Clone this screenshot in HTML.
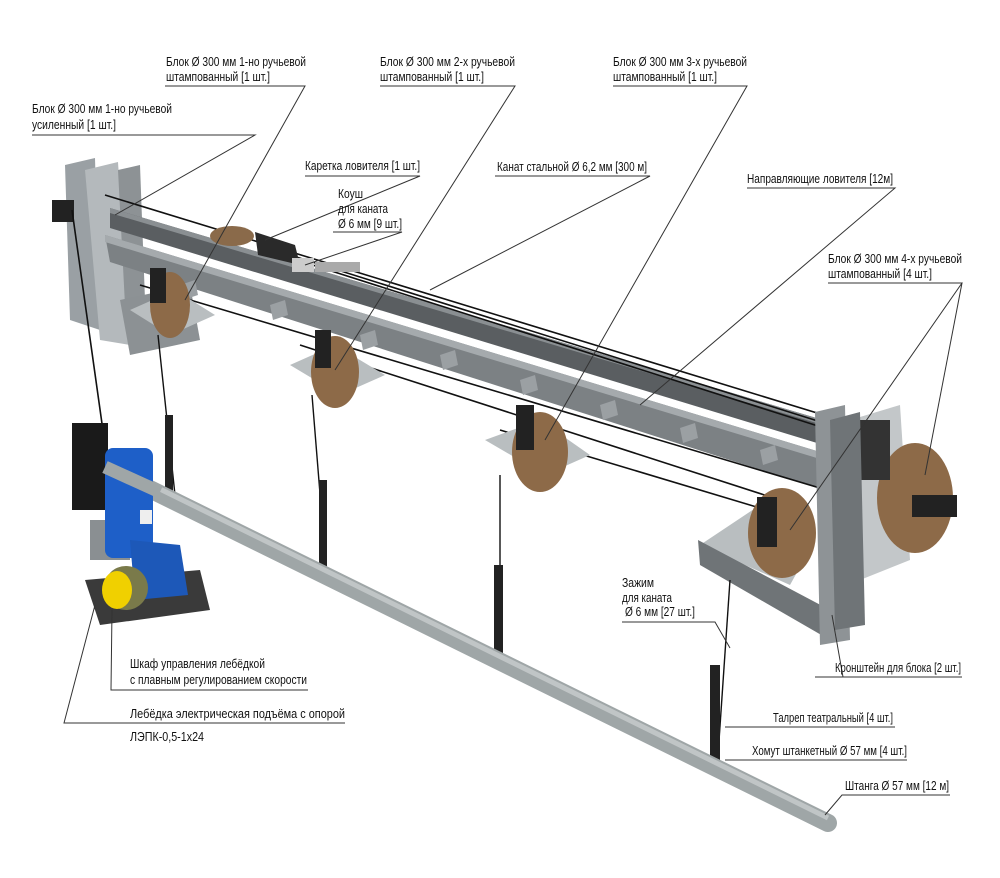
<!DOCTYPE html>
<html><head><meta charset="utf-8"><style>
html,body{margin:0;padding:0;background:#fff;}
svg{display:block;}
text{font-family:"Liberation Sans Narrow","Liberation Sans",sans-serif;font-size:12.5px;fill:#111;}
</style></head><body>
<svg width="1000" height="878" viewBox="0 0 1000 878" xmlns="http://www.w3.org/2000/svg">
<rect width="1000" height="878" fill="#fff"/>

<!-- Left bracket -->
<polygon points="65,165 95,158 100,330 70,320" fill="#9aa0a4"/>
<polygon points="85,170 118,162 130,345 100,340" fill="#b4b9bc"/>
<polygon points="118,170 140,165 145,300 125,305" fill="#8d9295"/>
<rect x="52" y="200" width="22" height="22" fill="#222"/>
<polygon points="120,300 190,285 200,340 130,355" fill="#8c9194"/>

<!-- Beams -->
<polygon points="105,235 830,455 830,492 110,262" fill="#7c8184"/>
<polygon points="105,235 830,455 830,462 105,242" fill="#a5aaad"/>
<polygon points="110,208 840,425 840,450 110,228" fill="#5a5e61"/>
<polygon points="110,208 840,425 840,430 110,213" fill="#8a8f92"/>
<g fill="#9ba0a3">
<polygon points="180,285 195,280 198,295 183,300"/>
<polygon points="270,305 285,300 288,315 273,320"/>
<polygon points="360,335 375,330 378,345 363,350"/>
<polygon points="440,355 455,350 458,365 443,370"/>
<polygon points="520,380 535,375 538,390 523,395"/>
<polygon points="600,405 615,400 618,415 603,420"/>
<polygon points="680,428 695,423 698,438 683,443"/>
<polygon points="760,450 775,445 778,460 763,465"/>
</g>
<g stroke="#111" stroke-width="1.6" fill="none">
<line x1="105" y1="195" x2="840" y2="420"/>
<line x1="290" y1="255" x2="840" y2="428"/>
<line x1="300" y1="261" x2="840" y2="433"/>
<line x1="140" y1="285" x2="860" y2="500"/>
<line x1="300" y1="345" x2="780" y2="500"/>
<line x1="500" y1="430" x2="800" y2="520"/>
<line x1="72" y1="210" x2="105" y2="445"/>
</g>
<ellipse cx="232" cy="236" rx="22" ry="10" fill="#8a6a4a"/>
<polygon points="255,232 295,245 300,265 258,255" fill="#2a2a2a"/>
<rect x="292" y="258" width="22" height="14" fill="#ccc"/>
<rect x="315" y="262" width="45" height="10" fill="#aaa"/>

<!-- Pulleys -->
<polygon points="130,310 175,290 215,315 170,335" fill="#b9bec0"/>
<ellipse cx="170" cy="305" rx="20" ry="33" fill="#8d6a48"/>
<rect x="150" y="268" width="16" height="35" fill="#222"/>

<polygon points="290,365 335,345 385,375 340,395" fill="#b9bec0"/>
<ellipse cx="335" cy="372" rx="24" ry="36" fill="#8d6a48"/>
<rect x="315" y="330" width="16" height="38" fill="#222"/>

<polygon points="485,440 540,420 590,455 545,475" fill="#b9bec0"/>
<ellipse cx="540" cy="452" rx="28" ry="40" fill="#8d6a48"/>
<rect x="516" y="405" width="18" height="45" fill="#222"/>

<polygon points="700,545 760,505 815,540 790,585" fill="#b9bec0"/>
<polygon points="698,540 830,610 830,640 700,565" fill="#6f7477"/>
<ellipse cx="782" cy="533" rx="34" ry="45" fill="#8d6a48"/>
<rect x="757" y="497" width="20" height="50" fill="#222"/>

<!-- right bracket -->
<polygon points="850,420 900,405 910,560 860,580" fill="#c3c7c9"/>
<ellipse cx="915" cy="498" rx="38" ry="55" fill="#8d6a48"/>
<rect x="912" y="495" width="45" height="22" fill="#222"/>
<rect x="860" y="420" width="30" height="60" fill="#333"/>
<polygon points="815,412 845,405 850,640 820,645" fill="#8e9396"/>
<polygon points="830,420 860,412 865,625 835,630" fill="#6f7477"/>

<!-- hanging cables -->
<g stroke="#111" stroke-width="1.4">
<line x1="158" y1="335" x2="175" y2="495"/>
<line x1="312" y1="395" x2="327" y2="580"/>
<line x1="500" y1="475" x2="500" y2="668"/>
<line x1="730" y1="580" x2="717" y2="770"/>
</g>
<g fill="#222">
<rect x="165" y="415" width="8" height="80"/>
<rect x="319" y="480" width="8" height="95"/>
<rect x="494" y="565" width="9" height="100"/>
<rect x="710" y="665" width="10" height="100"/>
</g>

<!-- Pipe -->
<line x1="105" y1="467" x2="828" y2="823" stroke="#9fa6a7" stroke-width="18" stroke-linecap="round"/>
<line x1="105" y1="462" x2="828" y2="818" stroke="#c0c5c6" stroke-width="5"/>

<!-- Motor -->
<rect x="72" y="423" width="36" height="87" fill="#1a1a1a"/>
<rect x="90" y="520" width="40" height="40" fill="#8a8f92"/>
<polygon points="85,580 200,570 210,610 100,625" fill="#3a3a3a"/>
<rect x="105" y="448" width="48" height="110" rx="8" fill="#1e5fc8"/>
<polygon points="130,540 180,545 188,595 135,600" fill="#1d58b8"/>
<rect x="140" y="510" width="12" height="14" fill="#eee"/>
<ellipse cx="126" cy="588" rx="22" ry="22" fill="#7a7a4a"/>
<ellipse cx="117" cy="590" rx="15" ry="19" fill="#f0d000"/>
<line x1="105" y1="467" x2="160" y2="492" stroke="#9fa6a7" stroke-width="13"/>

<!-- Leader lines -->
<g stroke="#333" stroke-width="1" fill="none">
<polyline points="165,86 305,86 185,300"/>
<polyline points="32,135 255,135 115,215"/>
<polyline points="380,86 515,86 335,370"/>
<polyline points="613,86 747,86 545,440"/>
<polyline points="305,176 420,176 265,240"/>
<polyline points="333,232 402,232 305,265"/>
<polyline points="495,176 650,176 430,290"/>
<polyline points="747,188 895,188 640,405"/>
<polyline points="828,283 962,283 790,530"/>
<line x1="962" y1="283" x2="925" y2="475"/>
<polyline points="622,622 715,622 730,648"/>
<polyline points="815,677 962,677"/>
<line x1="843" y1="677" x2="832" y2="615"/>
<polyline points="308,690 111,690 112,610"/>
<polyline points="345,723 64,723 95,605"/>
<line x1="725" y1="727" x2="895" y2="727"/>
<line x1="725" y1="760" x2="907" y2="760"/>
<polyline points="950,795 842,795 825,815"/>
</g>

<!-- Labels -->
<text x="166" y="66" textLength="140" lengthAdjust="spacingAndGlyphs">Блок Ø 300 мм 1-но ручьевой</text>
<text x="166" y="81" textLength="104" lengthAdjust="spacingAndGlyphs">штампованный [1 шт.]</text>
<text x="32" y="113" textLength="140" lengthAdjust="spacingAndGlyphs">Блок Ø 300 мм 1-но ручьевой</text>
<text x="32" y="129" textLength="84" lengthAdjust="spacingAndGlyphs">усиленный [1 шт.]</text>
<text x="380" y="66" textLength="135" lengthAdjust="spacingAndGlyphs">Блок Ø 300 мм 2-х ручьевой</text>
<text x="380" y="81" textLength="104" lengthAdjust="spacingAndGlyphs">штампованный [1 шт.]</text>
<text x="613" y="66" textLength="134" lengthAdjust="spacingAndGlyphs">Блок Ø 300 мм 3-х ручьевой</text>
<text x="613" y="81" textLength="104" lengthAdjust="spacingAndGlyphs">штампованный [1 шт.]</text>
<text x="305" y="170" textLength="115" lengthAdjust="spacingAndGlyphs">Каретка ловителя [1 шт.]</text>
<text x="338" y="198" textLength="25" lengthAdjust="spacingAndGlyphs">Коуш</text>
<text x="338" y="213" textLength="50" lengthAdjust="spacingAndGlyphs">для каната</text>
<text x="338" y="228" textLength="64" lengthAdjust="spacingAndGlyphs">Ø 6 мм [9 шт.]</text>
<text x="497" y="171" textLength="150" lengthAdjust="spacingAndGlyphs">Канат стальной Ø 6,2 мм [300 м]</text>
<text x="747" y="183" textLength="146" lengthAdjust="spacingAndGlyphs">Направляющие ловителя [12м]</text>
<text x="828" y="263" textLength="134" lengthAdjust="spacingAndGlyphs">Блок Ø 300 мм 4-х ручьевой</text>
<text x="828" y="278" textLength="104" lengthAdjust="spacingAndGlyphs">штампованный [4 шт.]</text>
<text x="622" y="587" textLength="32" lengthAdjust="spacingAndGlyphs">Зажим</text>
<text x="622" y="602" textLength="50" lengthAdjust="spacingAndGlyphs">для каната</text>
<text x="625" y="616" textLength="70" lengthAdjust="spacingAndGlyphs">Ø 6 мм [27 шт.]</text>
<text x="835" y="672" textLength="126" lengthAdjust="spacingAndGlyphs">Кронштейн для блока [2 шт.]</text>
<text x="130" y="668" textLength="135" lengthAdjust="spacingAndGlyphs">Шкаф управления лебёдкой</text>
<text x="130" y="684" textLength="177" lengthAdjust="spacingAndGlyphs">с плавным регулированием скорости</text>
<text x="130" y="718" textLength="215" lengthAdjust="spacingAndGlyphs">Лебёдка электрическая подъёма с опорой</text>
<text x="130" y="741" textLength="74" lengthAdjust="spacingAndGlyphs">ЛЭПК-0,5-1х24</text>
<text x="773" y="722" textLength="120" lengthAdjust="spacingAndGlyphs">Талреп театральный [4 шт.]</text>
<text x="752" y="755" textLength="155" lengthAdjust="spacingAndGlyphs">Хомут штанкетный Ø 57 мм [4 шт.]</text>
<text x="845" y="790" textLength="104" lengthAdjust="spacingAndGlyphs">Штанга Ø 57 мм [12 м]</text>
</svg>
</body></html>
